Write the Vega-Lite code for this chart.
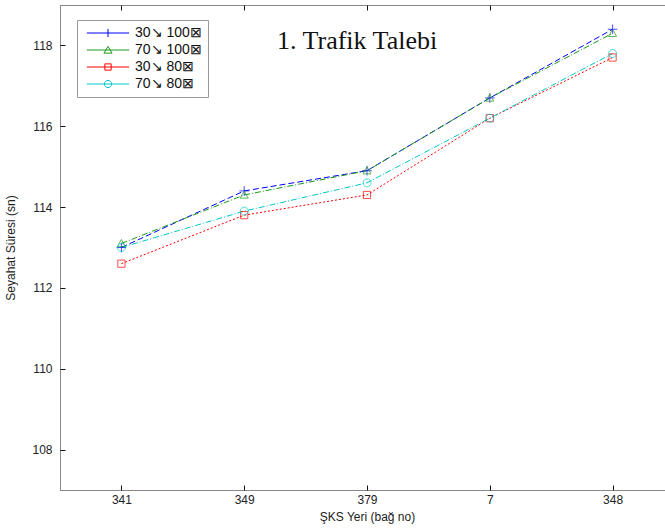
{
  "$schema": "https://vega.github.io/schema/vega-lite/v6.json",
  "width": 614,
  "height": 485,
  "autosize": {"type": "none"},
  "padding": {"left": 60, "top": 5, "right": 5, "bottom": 42},
  "background": "white",
  "title": {
    "text": "1. Trafik Talebi",
    "font": "Liberation Serif",
    "fontSize": 26,
    "fontWeight": "normal",
    "color": "#111",
    "anchor": "start",
    "frame": "group",
    "baseline": "alphabetic",
    "dx": 217,
    "dy": 74
  },
  "data": {
    "values": [
      {"yer": "341", "seri": "30↘ 100⊠", "sure": 113.0},
      {"yer": "349", "seri": "30↘ 100⊠", "sure": 114.4},
      {"yer": "379", "seri": "30↘ 100⊠", "sure": 114.9},
      {"yer": "7", "seri": "30↘ 100⊠", "sure": 116.7},
      {"yer": "348", "seri": "30↘ 100⊠", "sure": 118.4},
      {"yer": "341", "seri": "70↘ 100⊠", "sure": 113.1},
      {"yer": "349", "seri": "70↘ 100⊠", "sure": 114.3},
      {"yer": "379", "seri": "70↘ 100⊠", "sure": 114.9},
      {"yer": "7", "seri": "70↘ 100⊠", "sure": 116.7},
      {"yer": "348", "seri": "70↘ 100⊠", "sure": 118.3},
      {"yer": "341", "seri": "30↘ 80⊠", "sure": 112.6},
      {"yer": "349", "seri": "30↘ 80⊠", "sure": 113.8},
      {"yer": "379", "seri": "30↘ 80⊠", "sure": 114.3},
      {"yer": "7", "seri": "30↘ 80⊠", "sure": 116.2},
      {"yer": "348", "seri": "30↘ 80⊠", "sure": 117.7},
      {"yer": "341", "seri": "70↘ 80⊠", "sure": 113.0},
      {"yer": "349", "seri": "70↘ 80⊠", "sure": 113.9},
      {"yer": "379", "seri": "70↘ 80⊠", "sure": 114.6},
      {"yer": "7", "seri": "70↘ 80⊠", "sure": 116.2},
      {"yer": "348", "seri": "70↘ 80⊠", "sure": 117.8}
    ]
  },
  "config": {
    "view": {"stroke": "#888", "strokeWidth": 1},
    "axis": {
      "labelFont": "Liberation Sans",
      "titleFont": "Liberation Sans",
      "labelFontSize": 12,
      "titleFontSize": 12,
      "titleFontWeight": "normal",
      "labelColor": "#222",
      "titleColor": "#222",
      "domainColor": "#888",
      "tickColor": "#111",
      "tickWidth": 1,
      "grid": false
    }
  },
  "encoding": {
    "x": {
      "field": "yer",
      "type": "ordinal",
      "sort": ["341", "349", "379", "7", "348"],
      "scale": {"type": "point", "padding": 0.5}
    },
    "y": {
      "field": "sure",
      "type": "quantitative",
      "scale": {"domain": [107, 119], "nice": false, "zero": false}
    },
    "color": {
      "field": "seri",
      "type": "nominal",
      "sort": ["30↘ 100⊠", "70↘ 100⊠", "30↘ 80⊠", "70↘ 80⊠"],
      "scale": {
        "domain": ["30↘ 100⊠", "70↘ 100⊠", "30↘ 80⊠", "70↘ 80⊠"],
        "range": ["#0000ff", "#1a9a1a", "#ff0000", "#00c8c8"]
      },
      "legend": {
        "title": null,
        "orient": "none",
        "legendX": 17,
        "legendY": 15,
        "padding": 6,
        "strokeColor": "#999",
        "fillColor": "white",
        "labelFont": "Liberation Sans",
        "labelFontSize": 14,
        "labelColor": "#111",
        "symbolSize": 81,
        "symbolStrokeWidth": 1,
        "symbolOffset": 18,
        "labelOffset": 20,
        "rowPadding": 3,
        "symbolType": "M-4.7,0H4.7",
        "encoding": {
          "symbols": {
            "shape": {
              "value": {"expr": "datum.value === '30↘ 100⊠' ? 'M-4.7,0H4.7M0,-0.9V0.9' : datum.value === '70↘ 100⊠' ? 'M-4.7,0H4.7M0,-0.8L0.9,0.7H-0.9Z' : datum.value === '30↘ 80⊠' ? 'M-4.7,0H4.7M-0.7,-0.7H0.7V0.7H-0.7Z' : 'M-4.7,0H4.7M0.8,0A0.8,0.8 0 1,1 -0.8,0A0.8,0.8 0 1,1 0.8,0'"}
            },
            "fill": {"value": "transparent"}
          }
        }
      }
    }
  },
  "resolve": {"axis": {"x": "independent", "y": "independent"}},
  "layer": [
    {
      "transform": [{"filter": "datum.seri === '30↘ 100⊠'"}],
      "mark": {"type": "line", "strokeWidth": 1, "strokeDash": [6, 3]},
      "encoding": {
        "x": {
          "field": "yer", "type": "ordinal", "sort": ["341", "349", "379", "7", "348"],
          "axis": {"orient": "bottom", "title": "ŞKS Yeri (bağ no)", "labelAngle": 0, "ticks": false, "labelPadding": 4, "titlePadding": 6}
        },
        "y": {
          "field": "sure", "type": "quantitative",
          "axis": {"title": "Seyahat Süresi (sn)", "values": [108, 110, 112, 114, 116, 118], "ticks": false, "labelPadding": 8, "titlePadding": 14}
        }
      }
    },
    {
      "transform": [{"filter": "datum.seri === '70↘ 100⊠'"}],
      "mark": {"type": "line", "strokeWidth": 1, "strokeDash": [6, 2, 1, 2]},
      "encoding": {
        "x": {
          "field": "yer", "type": "ordinal", "sort": ["341", "349", "379", "7", "348"],
          "axis": {"orient": "bottom", "offset": -5, "tickSize": 5, "labels": false, "domain": false, "title": null}
        },
        "y": {
          "field": "sure", "type": "quantitative",
          "axis": {"orient": "left", "offset": -5, "tickSize": 5, "labels": false, "domain": false, "title": null, "values": [108, 110, 112, 114, 116, 118]}
        }
      }
    },
    {
      "transform": [{"filter": "datum.seri === '30↘ 80⊠'"}],
      "mark": {"type": "line", "strokeWidth": 1, "strokeDash": [2, 2]},
      "encoding": {
        "x": {
          "field": "yer", "type": "ordinal", "sort": ["341", "349", "379", "7", "348"],
          "axis": {"orient": "top", "offset": -5, "tickSize": 5, "labels": false, "domain": false, "title": null}
        },
        "y": {"field": "sure", "type": "quantitative", "axis": null}
      }
    },
    {
      "transform": [{"filter": "datum.seri === '70↘ 80⊠'"}],
      "mark": {"type": "line", "strokeWidth": 1, "strokeDash": [6, 2, 1, 2]},
      "encoding": {
        "x": {"field": "yer", "type": "ordinal", "sort": ["341", "349", "379", "7", "348"], "axis": null},
        "y": {"field": "sure", "type": "quantitative", "axis": null}
      }
    },
    {
      "transform": [{"filter": "datum.seri === '30↘ 100⊠'"}],
      "mark": {"type": "point", "filled": false, "strokeWidth": 1, "size": 64, "shape": "M-1.2,0H1.2M0,-1.2V1.2"},
      "encoding": {
        "x": {"field": "yer", "type": "ordinal", "sort": ["341", "349", "379", "7", "348"], "axis": null},
        "y": {"field": "sure", "type": "quantitative", "axis": null}
      }
    },
    {
      "transform": [{"filter": "datum.seri === '70↘ 100⊠'"}],
      "mark": {"type": "point", "filled": false, "strokeWidth": 1, "size": 64, "shape": "M0,-1L1,0.8H-1Z"},
      "encoding": {
        "x": {"field": "yer", "type": "ordinal", "sort": ["341", "349", "379", "7", "348"], "axis": null},
        "y": {"field": "sure", "type": "quantitative", "axis": null}
      }
    },
    {
      "transform": [{"filter": "datum.seri === '30↘ 80⊠'"}],
      "mark": {"type": "point", "filled": false, "strokeWidth": 1, "size": 64, "shape": "M-0.9,-0.9H0.9V0.9H-0.9Z"},
      "encoding": {
        "x": {"field": "yer", "type": "ordinal", "sort": ["341", "349", "379", "7", "348"], "axis": null},
        "y": {"field": "sure", "type": "quantitative", "axis": null}
      }
    },
    {
      "transform": [{"filter": "datum.seri === '70↘ 80⊠'"}],
      "mark": {"type": "point", "filled": false, "strokeWidth": 1, "size": 64, "shape": "M1,0A1,1 0 1,1 -1,0A1,1 0 1,1 1,0Z"},
      "encoding": {
        "x": {"field": "yer", "type": "ordinal", "sort": ["341", "349", "379", "7", "348"], "axis": null},
        "y": {"field": "sure", "type": "quantitative", "axis": null}
      }
    }
  ]
}
